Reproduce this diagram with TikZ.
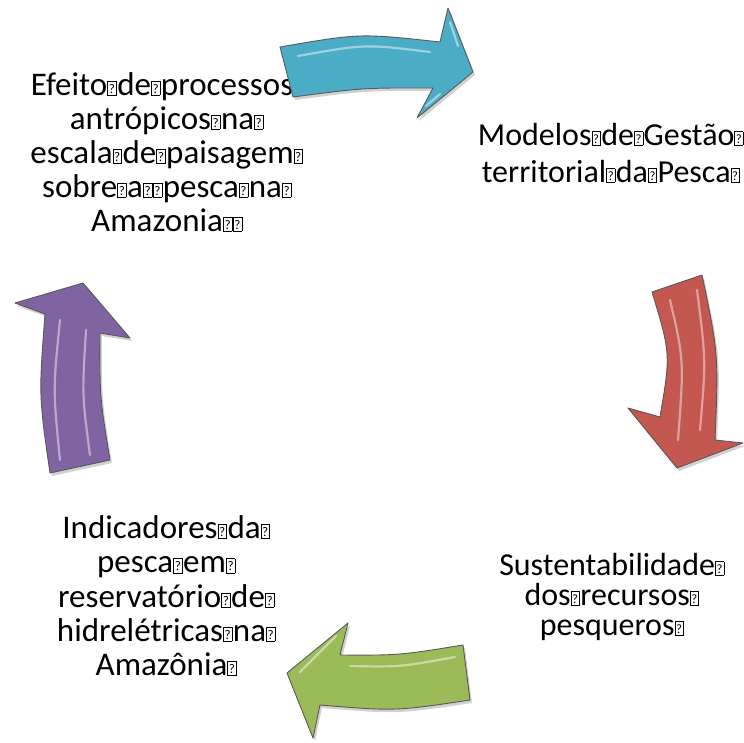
\documentclass[tikz,border=0pt]{standalone}
\usepackage{fontspec}
\setmainfont{Carlito}
\usepackage{graphicx}
\newcommand{\qb}{{\setlength{\fboxsep}{0pt}\setlength{\fboxrule}{0.5pt}\fbox{\makebox[0.25em]{\rule{0pt}{0.41em}\raisebox{0.05em}{\scalebox{0.4}{?}}}}}\kern0.02em}
\definecolor{cyanA}{HTML}{4BACC6}
\definecolor{redA}{HTML}{C4574F}
\definecolor{greenA}{HTML}{9BBB59}
\definecolor{purpleA}{HTML}{8064A2}
\tikzset{
  lbl/.style={anchor=base, inner sep=0pt, font=\fontsize{33}{33}\selectfont},
  lbls/.style={anchor=base, inner sep=0pt, font=\fontsize{32}{32}\selectfont},
  arr/.style={draw=black!65, line width=0.9pt, line join=round},
  shd/.style={fill=black, opacity=0.18},
  hl/.style={draw=white, opacity=0.45, line width=2.2pt, line cap=round},
}
\begin{document}
\begin{tikzpicture}[x=1pt,y=-1pt]
\useasboundingbox (0,0) rectangle (744,742);

% texts: top left
\node[lbl] (tl1) at (167,95) {Efeito\qb de\qb processos\qb};
\node[lbl] (tl2) at (167,129) {antrópicos\qb na\qb};
\node[lbl] (tl3) at (167,163) {escala\qb de\qb paisagem\qb};
\node[lbl] (tl4) at (167,197) {sobre\qb a\qb\qb pesca\qb na\qb};
\node[lbl] (tl5) at (167,231) {Amazonia\qb\qb};
% top right
\node[lbls] (tr1) at (611,145) {Modelos\qb de\qb Gestão\qb};
\node[lbls] (tr2) at (611,182) {territorial\qb da\qb Pesca\qb};
% bottom right
\node[lbls] (br1) at (612,575) {Sustentabilidade\qb};
\node[lbls] (br2) at (612,605) {dos\qb recursos\qb};
\node[lbls] (br3) at (612,635) {pesqueros\qb};
% bottom left
\node[lbl] (bl1) at (166.5,538) {Indicadores\qb da\qb};
\node[lbl] (bl2) at (166.5,572.5) {pesca\qb em\qb};
\node[lbl] (bl3) at (166.5,607) {reservatório\qb de\qb};
\node[lbl] (bl4) at (166.5,641) {hidrelétricas\qb na\qb};
\node[lbl] (bl5) at (166.5,675) {Amazônia\qb};

% cyan arrow (top)
\path[shd] (282,50) -- (295,100) .. controls (365,90.8) .. (435,91) -- (419,121) -- (475,75) -- (450,11) -- (442,45) .. controls (362,36.2) .. (282,50) -- cycle;
\path[arr, fill=cyanA] (280,47) -- (293,97) .. controls (363,87.8) .. (433,88) -- (417,118) -- (473,72) -- (448,8) -- (440,42) .. controls (360,33.2) .. (280,47) -- cycle;
\draw[hl] (298,56) .. controls (365,44) .. (430,52);
\draw[hl] (450,22) -- (458,46);
\draw[hl] (426,106) -- (440,94);

% red arrow (right)
\path[shd] (654,295) -- (704,278) .. controls (720.5,357.2) .. (717,443) -- (745,446) -- (679,471) -- (630,411) -- (662,420) .. controls (672.7,356.8) .. (654,295) -- cycle;
\path[arr, fill=redA] (652,292) -- (702,275) .. controls (718.5,354.2) .. (715,440) -- (743,443) -- (677,468) -- (628,408) -- (660,417) .. controls (670.7,353.8) .. (652,292) -- cycle;
\draw[hl] (670,300) .. controls (684,360) .. (678,440);
\draw[hl] (697,290) .. controls (706,360) .. (700,430);

% green arrow (bottom)
\path[shd] (289,676) -- (350,626) -- (342,658) .. controls (401.5,658.3) .. (465,648) -- (472,703) .. controls (397,714.2) .. (322,708) -- (315,741) -- cycle;
\path[arr, fill=greenA] (287,673) -- (348,623) -- (340,655) .. controls (399.5,655.3) .. (463,645) -- (470,700) .. controls (395,711.2) .. (320,705) -- (313,738) -- cycle;
\draw[hl] (350,666) .. controls (400,667) .. (455,657);
\draw[hl] (300,672) -- (336,636);

% purple arrow (left)
\path[shd] (85,286) -- (17,306) -- (47,317) .. controls (40.8,398.5) .. (52,476) -- (112,463) .. controls (101.7,400.2) .. (102,336) -- (132,341) -- cycle;
\path[arr, fill=purpleA] (83,283) -- (15,303) -- (45,314) .. controls (38.8,395.5) .. (50,473) -- (110,460) .. controls (99.7,397.2) .. (100,333) -- (130,338) -- cycle;
\draw[hl] (60,320) .. controls (53,390) .. (60,460);
\draw[hl] (86,330) .. controls (82,395) .. (90,455);
\end{tikzpicture}
\end{document}
